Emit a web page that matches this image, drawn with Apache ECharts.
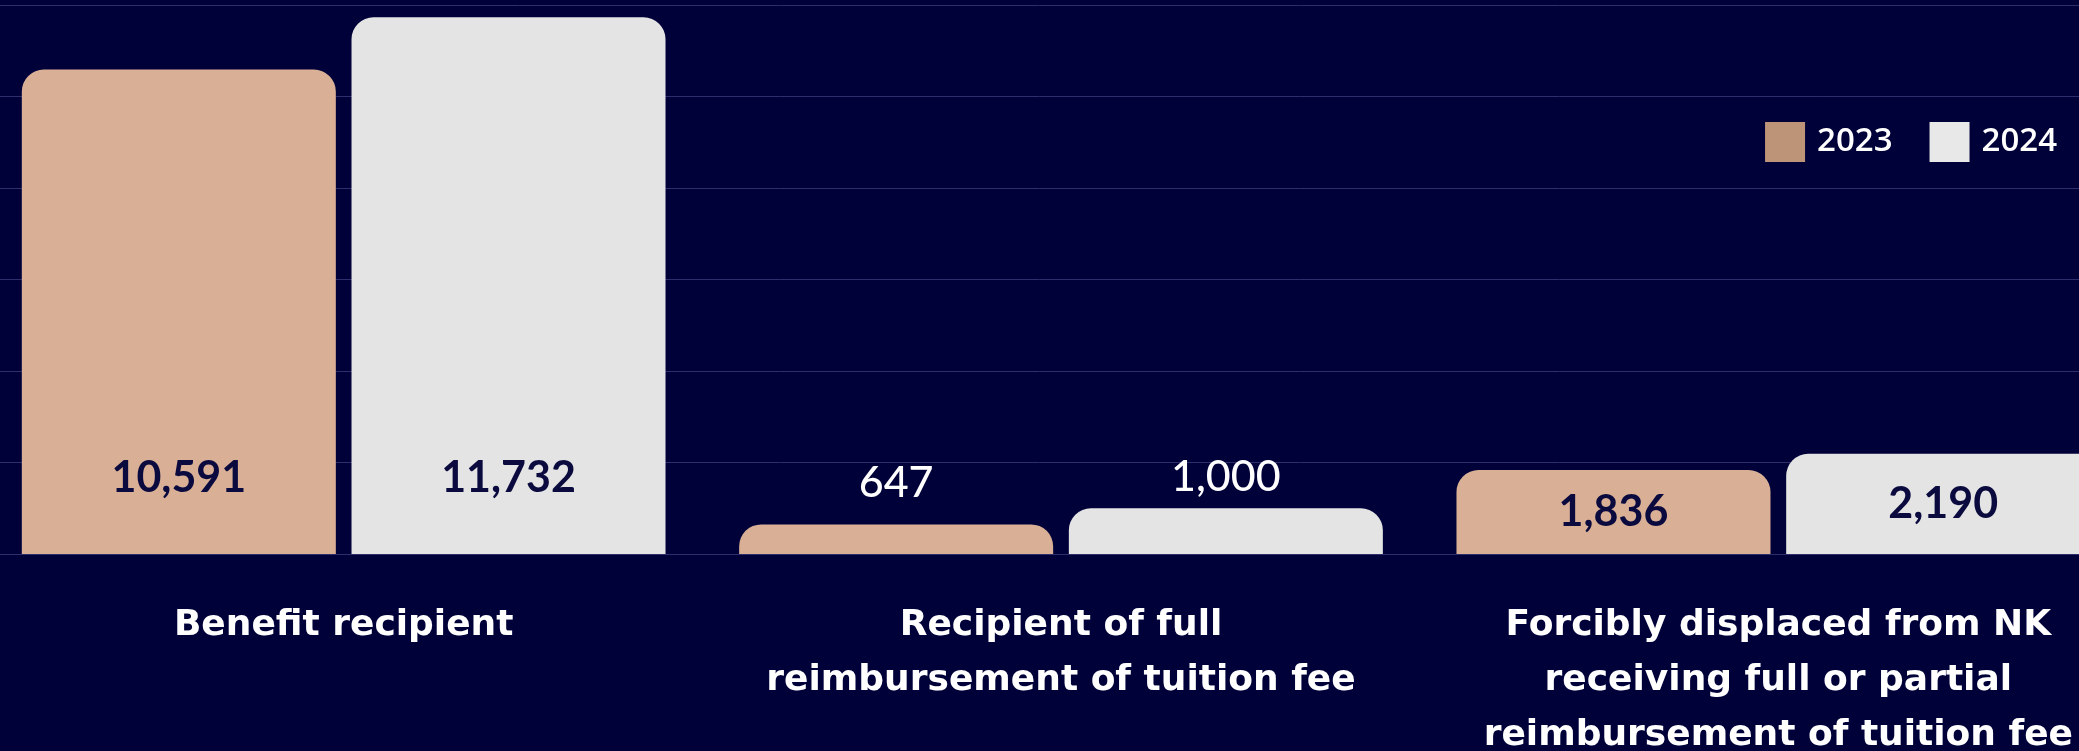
<!DOCTYPE html>
<html>
<head>
<meta charset="utf-8">
<script src="https://cdn.jsdelivr.net/npm/echarts@6/dist/echarts.min.js"></script>
<style>
    html, body { margin: 0; padding: 0; background: #01013a; }
    #chart { width: 2079px; height: 751px; }
</style>
</head>
<body>
<div id="chart"></div>
<script>
// categories (x axis)
var categories = [
    'Benefit recipient',
    'Recipient of full\nreimbursement of tuition fee',
    'Forcibly displaced from NK\nreceiving full or partial\nreimbursement of tuition fee'
];
// series values
var values2023 = [10591, 647, 1836];
var values2024 = [11732, 1000, 2190];
var seriesNames = ['2023', '2024'];

// label placement per category (style only)
var labelPos = ['insideBottom', 'top', 'inside'];
var labelDist2023 = [54, 19, 0];
var labelDist2024 = [54, 9, 0];

var darkText = '#0a0a3f';

function buildData(values, dists) {
    return values.map(function (v, i) {
        var outside = labelPos[i] === 'top';
        return {
            value: v,
            label: {
                position: labelPos[i],
                distance: dists[i],
                color: outside ? '#ffffff' : darkText,
                fontWeight: outside ? 500 : 'bold'
            }
        };
    });
}

var labelBase = {
    show: true,
    fontFamily: 'Lato',
    fontSize: 43,
    lineHeight: 44,
    formatter: function (p) { return p.value.toLocaleString('en-US'); }
};

var myChart = echarts.init(document.getElementById('chart'));
var option = {
    backgroundColor: '#01013a',
    animation: false,
    legend: {
        data: [
            { name: '2023', itemStyle: { color: '#bd9477' } },
            { name: '2024', itemStyle: { color: '#e8e8e8' } }
        ],
        right: 22,
        top: 122,
        padding: 0,
        icon: 'rect',
        itemWidth: 40,
        itemHeight: 40,
        itemGap: 37,
        textStyle: {
            color: '#ffffff',
            fontFamily: 'Open Sans',
            fontWeight: 600,
            fontSize: 33,
            padding: [0, 0, 0, 7]
        }
    },
    grid: {
        left: -15,
        right: -58,
        top: 5,
        bottom: 197,
        containLabel: false,
        outerBoundsMode: 'none'
    },
    xAxis: {
        type: 'category',
        data: categories,
        axisTick: { show: false },
        axisLine: { show: true, lineStyle: { color: '#2e2e6c', width: 1 } },
        axisLabel: {
            color: '#ffffff',
            fontFamily: 'DejaVu Sans',
            fontWeight: 'bold',
            fontSize: 36,
            lineHeight: 55,
            margin: 44,
            interval: 0
        }
    },
    yAxis: {
        type: 'value',
        min: 0,
        max: 12000,
        interval: 2000,
        axisLabel: { show: false },
        axisLine: { show: false },
        axisTick: { show: false },
        splitLine: { lineStyle: { color: '#2e2e6c', width: 1 } }
    },
    series: [
        {
            name: seriesNames[0],
            type: 'bar',
            barWidth: 314,
            barGap: '5%',
            itemStyle: { color: '#d9b095', borderRadius: [22, 22, 0, 0] },
            label: labelBase,
            data: buildData(values2023, labelDist2023)
        },
        {
            name: seriesNames[1],
            type: 'bar',
            barWidth: 314,
            barGap: '5%',
            itemStyle: { color: '#e4e4e4', borderRadius: [22, 22, 0, 0] },
            label: labelBase,
            data: buildData(values2024, labelDist2024)
        }
    ]
};
myChart.setOption(option);
</script>
</body>
</html>
